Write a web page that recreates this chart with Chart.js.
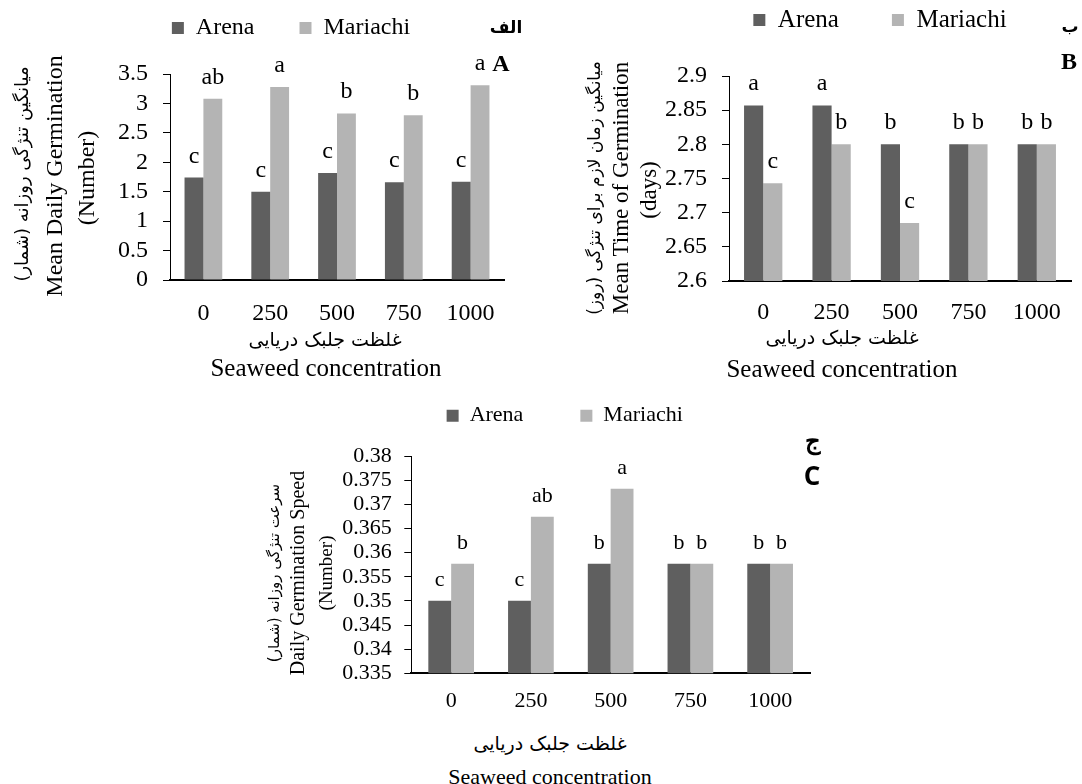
<!DOCTYPE html>
<html><head><meta charset="utf-8">
<script src="https://cdn.jsdelivr.net/npm/chart.js@4.4.1/dist/chart.umd.min.js"></script>
<style>
html,body{margin:0;padding:0;background:#fff;width:1082px;height:784px;overflow:hidden;position:relative;}
canvas{position:absolute;}
.t{position:absolute;white-space:nowrap;color:#000;font-family:'Liberation Serif','Times New Roman',serif;line-height:1;transform:translate(-50%,-50%);}
.rot{transform:translate(-50%,-50%) rotate(-90deg);}
.fa{font-family:'DejaVu Sans',sans-serif;}
.sans{font-family:'Open Sans','Noto Sans',sans-serif;}
.b{font-weight:bold;}
</style></head><body>
<canvas id="cA" style="left:0px;top:0px"></canvas>
<canvas id="cB" style="left:560px;top:0px"></canvas>
<canvas id="cC" style="left:250px;top:390px"></canvas>

<div class="t rot fa" style="left:22px;top:174px;font-size:18px">میانگین تنژگی روزانه (شمار)</div>
<div class="t rot" style="left:54px;top:176px;font-size:24px">Mean Daily Germination</div>
<div class="t rot" style="left:86px;top:178px;font-size:24px">(Number)</div>
<div class="t fa" style="left:325px;top:339px;font-size:19px">غلظت جلبک دریایی</div>
<div class="t" style="left:326px;top:367px;font-size:25px">Seaweed concentration</div>
<div class="t fa b" style="left:506px;top:27px;font-size:17px">الف</div>
<div class="t b" style="left:501px;top:63px;font-size:24px">A</div>

<div class="t rot fa" style="left:594px;top:188px;font-size:17px">میانگین زمان لازم برای تنژگی (روز)</div>
<div class="t rot" style="left:620px;top:188px;font-size:23px">Mean Time of Germination</div>
<div class="t rot" style="left:648px;top:190px;font-size:23px">(days)</div>
<div class="t fa" style="left:842px;top:337px;font-size:19px">غلظت جلبک دریایی</div>
<div class="t" style="left:842px;top:368px;font-size:25px">Seaweed concentration</div>
<div class="t fa b" style="left:1070px;top:26px;font-size:17px">ب</div>
<div class="t b" style="left:1069px;top:61px;font-size:24px">B</div>

<div class="t rot fa" style="left:274px;top:573px;font-size:15px">سرعت تنژگی روزانه (شمار)</div>
<div class="t rot" style="left:297px;top:573px;font-size:20px">Daily Germination Speed</div>
<div class="t rot" style="left:325px;top:573px;font-size:19px">(Number)</div>
<div class="t fa" style="left:550px;top:743px;font-size:19px">غلظت جلبک دریایی</div>
<div class="t" style="left:550px;top:777px;font-size:22px">Seaweed concentration</div>
<div class="t sans b" style="left:813px;top:440px;font-size:24px">ج</div>
<div class="t sans b" style="left:812px;top:475px;font-size:26px">C</div>

<script>
// ---- data ----
const categories = ['0', '250', '500', '750', '1000'];
const seriesNames = ['Arena', 'Mariachi'];

const dailyGermArena    = [1.74, 1.50, 1.82, 1.66, 1.67];
const dailyGermMariachi = [3.08, 3.28, 2.83, 2.80, 3.31];
const dailyGermLettersArena    = ['c', 'c', 'c', 'c', 'c'];
const dailyGermLettersMariachi = ['ab', 'a', 'b', 'b', 'a'];
const dailyGermTicks = [0, 0.5, 1, 1.5, 2, 2.5, 3, 3.5];

const meanTimeArena    = [2.857, 2.857, 2.8, 2.8, 2.8];
const meanTimeMariachi = [2.743, 2.8, 2.685, 2.8, 2.8];
const meanTimeLettersArena    = ['a', 'a', 'b', 'b', 'b'];
const meanTimeLettersMariachi = ['c', 'b', 'c', 'b', 'b'];
const meanTimeTicks = [2.6, 2.65, 2.7, 2.75, 2.8, 2.85, 2.9];

const speedArena    = [0.350, 0.350, 0.3577, 0.3577, 0.3577];
const speedMariachi = [0.3577, 0.3674, 0.3732, 0.3577, 0.3577];
const speedLettersArena    = ['c', 'c', 'b', 'b', 'b'];
const speedLettersMariachi = ['b', 'ab', 'a', 'b', 'b'];
const speedTicks = [0.335, 0.34, 0.345, 0.35, 0.355, 0.36, 0.365, 0.37, 0.375, 0.38];

const ARENA_COLOR = '#5f5f5f';
const MARIACHI_COLOR = '#b4b4b4';
const SERIF = "'Liberation Serif', 'Times New Roman', serif";

Chart.defaults.font.family = SERIF;
Chart.defaults.color = '#000';

const letterPlugin = {
  id: 'letters',
  afterDatasetsDraw(chart, args, opts) {
    const ctx = chart.ctx;
    ctx.save();
    ctx.font = opts.size + 'px ' + SERIF;
    ctx.fillStyle = '#000';
    ctx.textAlign = 'center';
    ctx.textBaseline = 'alphabetic';
    chart.data.datasets.forEach((ds, i) => {
      const meta = chart.getDatasetMeta(i);
      meta.data.forEach((bar, j) => {
        const t = ds.letters[j];
        if (t) ctx.fillText(t, bar.x, bar.y - opts.offset);
      });
    });
    ctx.restore();
  }
};

// moves the library legend to its place in the reference without changing the plot area
const legendPlace = {
  id: 'legendPlace',
  afterLayout(chart, args, opts) {
    const lg = chart.legend;
    if (!lg) return;
    const cur = lg.top + opts.padding + opts.fontSize / 2;
    lg.top += opts.centerY - cur;
    const dx = opts.centerX - (lg.left + lg.right) / 2;
    lg.left += dx;
    lg.right += dx;
  }
};

function fmt(v) { return String(Number(v.toFixed(4))); }

function buildPanel(p) {
  const cv = document.getElementById(p.id);
  cv.width = p.cw; cv.height = p.ch;
  const l = p.area[0] - p.cx, t = p.area[1] - p.cy, r = p.area[2] - p.cx, b = p.area[3] - p.cy;
  const padR = p.cw - r;
  const yW = l;
  const xH = p.ch - b;
  const natural = p.legendFont + p.legendPad + 10;
  let padTop = 0, maxH = t;
  if (natural <= t) { padTop = t - natural; maxH = natural; }

  new Chart(cv, {
    type: 'bar',
    data: {
      labels: categories,
      datasets: [
        { label: seriesNames[0], data: p.arena, letters: p.lettersArena, backgroundColor: ARENA_COLOR,
          borderWidth: 0, barPercentage: 1, categoryPercentage: p.catPct },
        { label: seriesNames[1], data: p.mariachi, letters: p.lettersMariachi, backgroundColor: MARIACHI_COLOR,
          borderWidth: 0, barPercentage: 1, categoryPercentage: p.catPct }
      ]
    },
    options: {
      responsive: false,
      maintainAspectRatio: false,
      animation: false,
      devicePixelRatio: 1,
      layout: { padding: { left: 0, right: padR, top: padTop, bottom: 0 } },
      plugins: {
        legend: {
          position: 'top',
          maxHeight: maxH,
          labels: { boxWidth: 12, boxHeight: 12, padding: p.legendPad, color: '#000',
                    font: { size: p.legendFont, family: SERIF } }
        },
        tooltip: { enabled: false },
        letters: { size: p.letterFont, offset: 15 },
        legendPlace: { centerY: p.legendCY - p.cy, centerX: p.legendCX - p.cx,
                       padding: p.legendPad, fontSize: p.legendFont }
      },
      scales: {
        x: {
          grid: { display: false },
          border: { display: true, color: '#000', width: 2 },
          ticks: { font: { size: p.tickFont }, color: '#000', padding: p.xTickPad, maxRotation: 0, autoSkip: false },
          afterFit(s) { s.height = xH; }
        },
        y: {
          min: p.ticks[0],
          max: p.ticks[p.ticks.length - 1],
          grid: { display: true, drawOnChartArea: false, drawTicks: true, tickLength: 7, color: '#000', lineWidth: 1 },
          border: { display: true, color: '#000', width: 1 },
          ticks: { font: { size: p.tickFont }, color: '#000', padding: p.yTickPad, autoSkip: false,
                   callback: v => fmt(v) },
          afterBuildTicks(s) { s.ticks = p.ticks.map(v => ({ value: v })); },
          afterFit(s) { s.width = yW; }
        }
      }
    },
    plugins: [letterPlugin, legendPlace]
  });
}

buildPanel({ id: 'cA', cx: 0, cy: 0, cw: 540, ch: 335, area: [170, 74, 504, 280],
  legendCX: 291, legendCY: 28, legendFont: 24, legendPad: 45,
  tickFont: 24, xTickPad: 11, yTickPad: 15, letterFont: 24, catPct: 0.565,
  arena: dailyGermArena, mariachi: dailyGermMariachi,
  lettersArena: dailyGermLettersArena, lettersMariachi: dailyGermLettersMariachi, ticks: dailyGermTicks });

buildPanel({ id: 'cB', cx: 560, cy: 0, cw: 522, ch: 335, area: [729, 76, 1071, 281],
  legendCX: 880, legendCY: 20, legendFont: 25, legendPad: 53,
  tickFont: 24, xTickPad: 9, yTickPad: 15, letterFont: 24, catPct: 0.56,
  arena: meanTimeArena, mariachi: meanTimeMariachi,
  lettersArena: meanTimeLettersArena, lettersMariachi: meanTimeLettersMariachi, ticks: meanTimeTicks });

buildPanel({ id: 'cC', cx: 250, cy: 390, cw: 580, ch: 330, area: [411.3, 456, 810, 673.3],
  legendCX: 564.7, legendCY: 415.7, legendFont: 22, legendPad: 57,
  tickFont: 22, xTickPad: 6.5, yTickPad: 12.6, letterFont: 22, catPct: 0.573,
  arena: speedArena, mariachi: speedMariachi,
  lettersArena: speedLettersArena, lettersMariachi: speedLettersMariachi, ticks: speedTicks });
</script>
</body></html>
